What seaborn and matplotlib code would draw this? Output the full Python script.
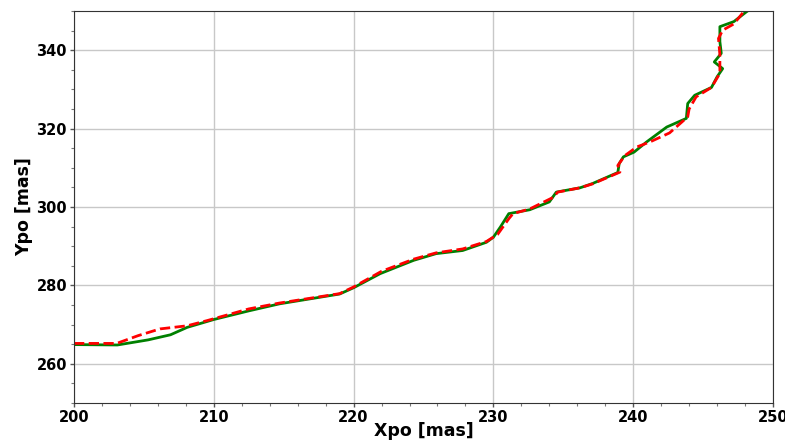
import matplotlib
matplotlib.use("Agg")
import matplotlib.pyplot as plt
from matplotlib.ticker import MultipleLocator
import seaborn as sns

# Reconstructed pole path, solution A (solid green)
xpo_a = [200.0, 203.1, 205.3, 206.9, 208.1, 210.0, 212.5, 214.7, 219.0, 220.0,
         221.9, 224.3, 225.9, 227.8, 229.5, 230.0, 230.5, 231.1, 232.6, 234.0,
         234.5, 236.2, 237.1, 238.9, 239.0, 239.3, 240.06, 240.96, 242.4, 243.8,
         243.9, 244.4, 245.6, 246.0, 246.4, 245.8, 246.3, 246.2, 246.2, 247.2,
         248.1, 248.6]
ypo_a = [264.9, 264.8, 266.1, 267.4, 269.3, 271.3, 273.5, 275.3, 277.8, 279.4,
         283.0, 286.4, 288.1, 288.9, 291.0, 292.3, 294.9, 298.3, 299.3, 301.3,
         303.8, 304.9, 306.0, 308.8, 311.1, 312.8, 314.0, 316.6, 320.4, 322.6,
         326.4, 328.5, 330.5, 333.2, 335.3, 337.0, 339.2, 342.2, 346.0, 347.3,
         349.8, 351.0]

# Solution B (dashed red)
xpo_b = [200.0, 203.05, 204.6, 206.15, 208.1, 209.5, 212.5, 214.7, 219.0, 220.0,
         222.0, 224.3, 225.9, 227.8, 229.5, 230.3, 231.1, 231.4, 232.6, 234.3,
         234.6, 236.2, 237.1, 239.05, 238.9, 239.4, 240.25, 241.2, 242.6, 243.9,
         244.0, 244.5, 245.6, 246.2, 246.2, 246.1, 246.4, 247.2, 247.9, 248.4]
ypo_b = [265.2, 265.2, 267.2, 268.9, 269.7, 271.0, 274.0, 275.5, 277.9, 279.6,
         283.6, 286.7, 288.3, 289.3, 291.2, 293.0, 297.0, 298.3, 299.5, 302.5,
         303.8, 304.9, 305.9, 308.9, 310.6, 313.1, 315.3, 316.6, 318.9, 323.0,
         325.0, 328.1, 330.5, 334.1, 338.8, 343.0, 345.1, 346.7, 349.8, 351.0]

x_ticks = [200, 210, 220, 230, 240, 250]
y_ticks = [260, 280, 300, 320, 340]

fig = plt.figure(figsize=(7.85, 4.43), dpi=100)
ax = fig.add_axes([74 / 785, 1 - 403 / 443, (773 - 74) / 785, (403 - 11) / 443])

sns.lineplot(x=xpo_a, y=ypo_a, sort=False, estimator=None, color="green",
             linewidth=2, ax=ax)
sns.lineplot(x=xpo_b, y=ypo_b, sort=False, estimator=None, color="red",
             linewidth=2, linestyle="--", ax=ax)

ax.set_xlim(200, 250)
ax.set_ylim(250, 350)
ax.set_xticks(x_ticks)
ax.set_yticks(y_ticks)
ax.xaxis.set_minor_locator(MultipleLocator(2))
ax.yaxis.set_minor_locator(MultipleLocator(5))
ax.grid(True, which="major", color="#c8c8c8", linewidth=1)
ax.set_axisbelow(True)
for s in ax.spines.values():
    s.set_color("#333333")
ax.tick_params(which="major", length=3, width=1, pad=2,
               colors="#555555", labelcolor="black")
ax.tick_params(which="minor", length=2, width=0.8, colors="#777777")
for lab in ax.get_xticklabels() + ax.get_yticklabels():
    lab.set_fontweight("bold")
    lab.set_fontsize(10.5)

ax.set_xlabel("Xpo [mas]", fontsize=12.5, fontweight="bold")
ax.set_ylabel("Ypo [mas]", fontsize=12.5, fontweight="bold")
ax.xaxis.set_label_coords(0.5, -0.049)
ax.yaxis.set_label_coords(-0.0587, 0.5)

fig.savefig("out.png", dpi=100)
